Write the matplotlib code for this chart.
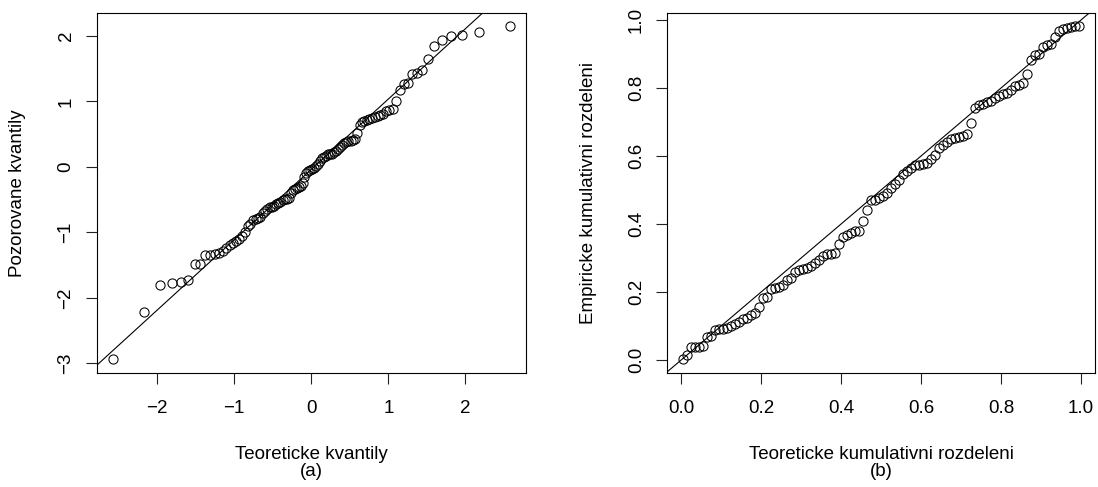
import numpy as np
import matplotlib
matplotlib.use("Agg")
import matplotlib.pyplot as plt
from matplotlib.ticker import FormatStrFormatter

plt.rcParams['font.family'] = ['Liberation Sans', 'DejaVu Sans']

# theoretical normal quantiles (x of the Q-Q plot)
theo_q = [-2.576, -2.170, -1.960, -1.812, -1.695, -1.598, -1.514, -1.440, -1.372, -1.311,
          -1.254, -1.200, -1.150, -1.103, -1.058, -1.015, -0.974, -0.935, -0.896, -0.860,
          -0.824, -0.789, -0.755, -0.722, -0.690, -0.659, -0.628, -0.598, -0.568, -0.539,
          -0.510, -0.482, -0.454, -0.426, -0.399, -0.372, -0.345, -0.319, -0.292, -0.266,
          -0.240, -0.215, -0.189, -0.164, -0.138, -0.113, -0.088, -0.063, -0.038, -0.013,
          0.013, 0.038, 0.063, 0.088, 0.113, 0.138, 0.164, 0.189, 0.215, 0.240,
          0.266, 0.292, 0.319, 0.345, 0.372, 0.399, 0.426, 0.454, 0.482, 0.510,
          0.539, 0.568, 0.598, 0.628, 0.659, 0.690, 0.722, 0.755, 0.789, 0.824,
          0.860, 0.896, 0.935, 0.974, 1.015, 1.058, 1.103, 1.150, 1.200, 1.254,
          1.311, 1.372, 1.440, 1.514, 1.598, 1.695, 1.812, 1.960, 2.170, 2.576]

# observed (sorted) sample values
observed_q = [-2.94, -2.21, -1.80, -1.77, -1.76, -1.73, -1.49, -1.48, -1.35, -1.34,
              -1.33, -1.31, -1.28, -1.24, -1.20, -1.16, -1.13, -1.10, -1.06, -0.99,
              -0.91, -0.87, -0.81, -0.80, -0.78, -0.76, -0.71, -0.68, -0.64, -0.62,
              -0.61, -0.60, -0.57, -0.55, -0.53, -0.50, -0.49, -0.485, -0.47, -0.40,
              -0.36, -0.34, -0.32, -0.31, -0.30, -0.25, -0.15, -0.09, -0.07, -0.055,
              -0.04, -0.015, 0.02, 0.05, 0.09, 0.13, 0.15, 0.17, 0.19, 0.19,
              0.20, 0.22, 0.24, 0.27, 0.31, 0.34, 0.36, 0.38, 0.39, 0.40,
              0.41, 0.43, 0.52, 0.64, 0.68, 0.70, 0.72, 0.73, 0.745, 0.76,
              0.775, 0.79, 0.80, 0.85, 0.875, 0.89, 1.01, 1.17, 1.26, 1.28,
              1.42, 1.44, 1.48, 1.64, 1.85, 1.93, 2.00, 2.02, 2.06, 2.15]

# P-P plot
theo_p = [0.005, 0.015, 0.025, 0.035, 0.045, 0.055, 0.065, 0.075, 0.085, 0.095,
          0.105, 0.115, 0.125, 0.135, 0.145, 0.155, 0.165, 0.175, 0.185, 0.195,
          0.205, 0.215, 0.225, 0.235, 0.245, 0.255, 0.265, 0.275, 0.285, 0.295,
          0.305, 0.315, 0.325, 0.335, 0.345, 0.355, 0.365, 0.375, 0.385, 0.395,
          0.405, 0.415, 0.425, 0.435, 0.445, 0.455, 0.465, 0.475, 0.485, 0.495,
          0.505, 0.515, 0.525, 0.535, 0.545, 0.555, 0.565, 0.575, 0.585, 0.595,
          0.605, 0.615, 0.625, 0.635, 0.645, 0.655, 0.665, 0.675, 0.685, 0.695,
          0.705, 0.715, 0.725, 0.735, 0.745, 0.755, 0.765, 0.775, 0.785, 0.795,
          0.805, 0.815, 0.825, 0.835, 0.845, 0.855, 0.865, 0.875, 0.885, 0.895,
          0.905, 0.915, 0.925, 0.935, 0.945, 0.955, 0.965, 0.975, 0.985, 0.995]

empir_p = [0.002, 0.014, 0.037, 0.038, 0.039, 0.041, 0.068, 0.070, 0.089, 0.090,
           0.092, 0.094, 0.099, 0.106, 0.113, 0.120, 0.125, 0.131, 0.139, 0.155,
           0.181, 0.186, 0.208, 0.211, 0.214, 0.220, 0.234, 0.241, 0.260, 0.265,
           0.267, 0.271, 0.277, 0.285, 0.295, 0.306, 0.312, 0.313, 0.314, 0.342,
           0.361, 0.368, 0.375, 0.378, 0.380, 0.408, 0.442, 0.470, 0.472, 0.476,
           0.481, 0.491, 0.506, 0.519, 0.530, 0.548, 0.556, 0.566, 0.573, 0.574,
           0.575, 0.580, 0.590, 0.603, 0.624, 0.632, 0.642, 0.649, 0.653, 0.656,
           0.659, 0.665, 0.698, 0.740, 0.750, 0.753, 0.759, 0.763, 0.771, 0.776,
           0.781, 0.786, 0.793, 0.806, 0.810, 0.815, 0.842, 0.881, 0.896, 0.901,
           0.921, 0.925, 0.930, 0.949, 0.968, 0.974, 0.976, 0.978, 0.981, 0.982]

qq_xticks = [-2, -1, 0, 1, 2]
qq_yticks = [-3, -2, -1, 0, 1, 2]
pp_ticks = [0.0, 0.2, 0.4, 0.6, 0.8, 1.0]

FS = 13.5


def r_lim(vals):
    lo, hi = min(vals), max(vals)
    pad = 0.04 * (hi - lo)
    return lo - pad, hi + pad


def style_axes(ax):
    for sp in ax.spines.values():
        sp.set_linewidth(0.8)
        sp.set_color('black')
    ax.tick_params(direction='out', length=8, width=0.8, labelsize=FS,
                   colors='#222222', labelcolor='black')
    ax.tick_params(axis='x', pad=12)
    ax.tick_params(axis='y', pad=8, labelrotation=90)
    for lab in ax.get_yticklabels():
        lab.set_va('center')


fig = plt.figure(figsize=(10.98, 4.87), dpi=100)
ax1 = fig.add_axes([0.0881, 0.2347, 0.3907, 0.7392])
ax2 = fig.add_axes([0.6077, 0.2347, 0.3895, 0.7392])

# Q-Q plot
ax1.plot(theo_q, observed_q, 'o', mfc='none', mec='black', ms=6.6, mew=0.75)
q1, q3 = np.percentile(observed_q, [25, 75])
z = 0.6744898
slope = (q3 - q1) / (2 * z)
icpt = q1 + z * slope
ax1.axline((0, icpt), slope=slope, color='black', lw=0.8)
ax1.set_xlim(r_lim(theo_q))
ax1.set_ylim(r_lim(observed_q))
ax1.set_xticks(qq_xticks)
ax1.set_yticks(qq_yticks)
style_axes(ax1)
ax1.set_xlabel('Teoreticke kvantily\n(a)', fontsize=FS, linespacing=1.0)
ax1.set_ylabel('Pozorovane kvantily', fontsize=FS)
ax1.xaxis.set_label_coords(0.5, -0.2508)
ax1.xaxis.label.set_va('center')
ax1.yaxis.set_label_coords(-0.1846, 0.5)
ax1.yaxis.label.set_va('center')

# P-P plot
ax2.plot(theo_p, empir_p, 'o', mfc='none', mec='black', ms=6.6, mew=0.75)
ax2.axline((0, 0), slope=1, color='black', lw=0.8)
ax2.set_xlim(r_lim(theo_p))
ax2.set_ylim(r_lim(empir_p))
ax2.set_xticks(pp_ticks)
ax2.set_yticks(pp_ticks)
ax2.xaxis.set_major_formatter(FormatStrFormatter('%.1f'))
ax2.yaxis.set_major_formatter(FormatStrFormatter('%.1f'))
style_axes(ax2)
ax2.set_xlabel('Teoreticke kumulativni rozdeleni\n(b)', fontsize=FS, linespacing=1.0)
ax2.set_ylabel('Empiricke kumulativni rozdeleni', fontsize=FS)
ax2.xaxis.set_label_coords(0.5, -0.2508)
ax2.xaxis.label.set_va('center')
ax2.yaxis.set_label_coords(-0.1842, 0.5)
ax2.yaxis.label.set_va('center')

plt.savefig('out.png', dpi=100)
